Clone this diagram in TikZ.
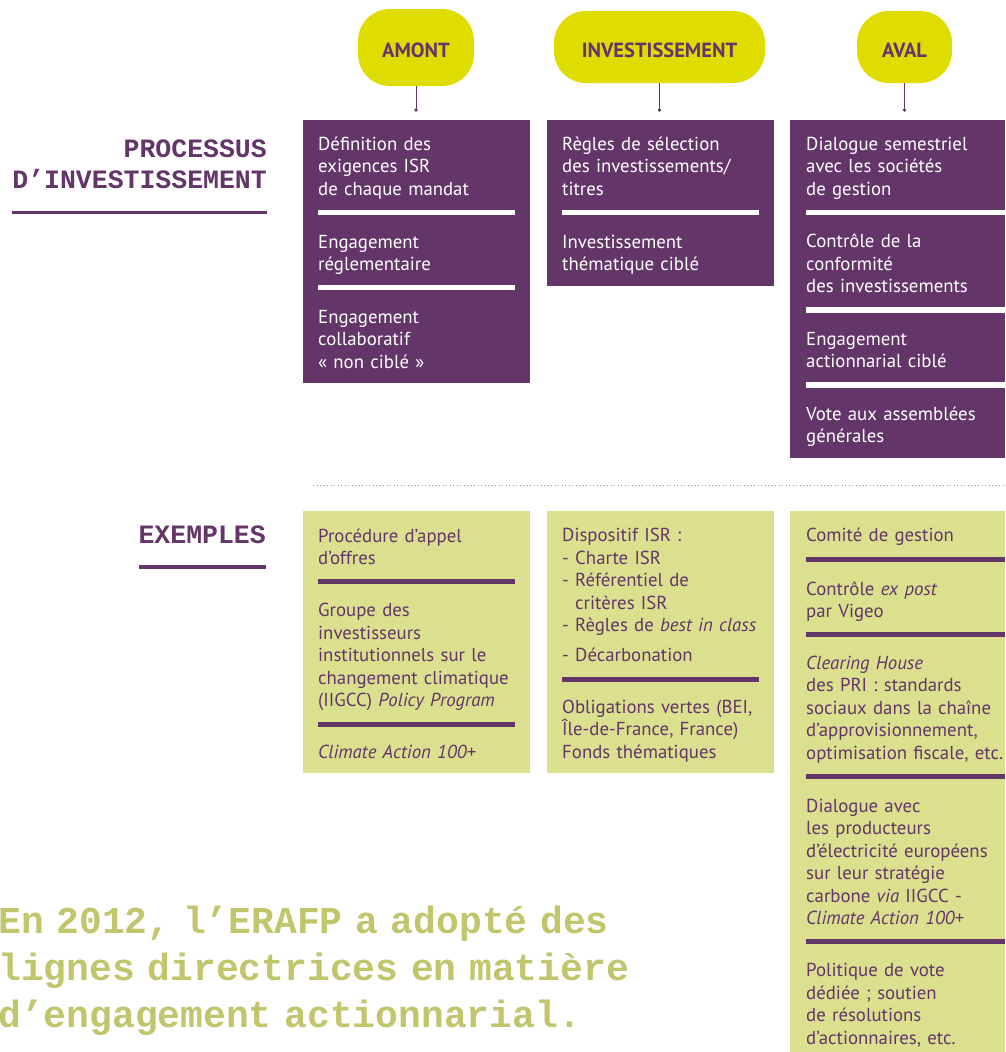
\documentclass[tikz,border=0pt]{standalone}
\usepackage{fontspec}
\setmainfont{PT Sans}
\newfontfamily\machine[WordSpace=0.44]{Liberation Mono}

\definecolor{prune}{HTML}{633569}
\definecolor{citron}{HTML}{DFDC00}
\definecolor{anis}{HTML}{DBE08F}
\definecolor{olivetxt}{HTML}{C1C56C}

\tikzset{
	pill/.style={rounded corners=32pt, fill=citron, text=prune, inner sep=0,
		text height=20.3pt, text depth=0pt,
		font=\fontsize{20.5}{20.5}\selectfont\bfseries},
	blanc/.style={anchor=base west, inner sep=0, text width=300pt, align=left,
		text=white, font=\fontsize{18.8}{22.5}\selectfont},
	vert/.style={blanc, text=prune},
	titre/.style={anchor=base east, inner sep=0, text width=300pt, align=right,
		text=prune, font=\machine\fontsize{26.5}{31}\selectfont\bfseries},
	lien/.style={prune, line width=0.8pt},
	barreblanche/.style={white, line width=5.5pt},
	barreprune/.style={prune, line width=5.5pt}
}

\begin{document}
\begin{tikzpicture}[x=1pt, y=-1pt]
		\useasboundingbox (0,0) rectangle (1005,1052);
		\node[pill, minimum width=116pt, minimum height=77pt] (amont) at (416,47.5) {AMONT};
		\node[pill, minimum width=211pt, minimum height=72pt] (invest) at (659.5,47) {INVESTISSEMENT};
		\node[pill, minimum width=95pt, minimum height=72pt] (aval) at (904.5,47) {AVAL};
		\coordinate (amont-bas) at (416,110);
		\coordinate (invest-bas) at (659.5,110);
		\coordinate (aval-bas) at (904.5,110);
		\draw[lien] (amont) -- (amont-bas);
		\draw[lien] (invest) -- (invest-bas);
		\draw[lien] (aval) -- (aval-bas);
		\fill[prune] (amont-bas) circle (1.8pt);
		\fill[prune] (invest-bas) circle (1.8pt);
		\fill[prune] (aval-bas) circle (1.8pt);

		\node[titre] (processus) at (267,157) {PROCESSUS\\D’INVESTISSEMENT};
		\path [draw, prune, line width=3.5pt] (12,212.7) -- (267,212.7);
		\node[titre] (exemples) at (266,543) {EXEMPLES};
		\path [draw, prune, line width=3.5pt] (139,567) -- (266,567);

		\fill[prune] (303,120) rectangle (530,383);
		\fill[prune] (547,120) rectangle (774,286);
		\fill[prune] (790,120) rectangle (1005,458);
		\path [draw, barreblanche] (318,212.7) -- (515,212.7);
		\path [draw, barreblanche] (318,287.7) -- (515,287.7);
		\path [draw, barreblanche] (562,212.7) -- (759,212.7);
		\path [draw, barreblanche] (806,212.7) -- (1005,212.7);
		\path [draw, barreblanche] (806,310) -- (1005,310);
		\path [draw, barreblanche] (806,385) -- (1005,385);

		\node[blanc] (definition) at (318,150) {Définition des\\exigences ISR\\de chaque mandat};
		\node[blanc] (reglement) at (318,248) {Engagement\\réglementaire};
		\node[blanc] (collectif) at (318,323) {Engagement\\collaboratif\\« non ciblé »};
		\node[blanc] (selection) at (562,150) {Règles de sélection\\des investissements/\\titres};
		\node[blanc] (thematique) at (562,248) {Investissement\\thématique ciblé};
		\node[blanc] (semestriel) at (806,150) {Dialogue semestriel\\avec les sociétés\\de gestion};
		\node[blanc] (conformite) at (806,247.7) {Contrôle de la\\conformité\\des investissements};
		\node[blanc] (actionnarial) at (806,345) {Engagement\\actionnarial ciblé};
		\node[blanc] (vote) at (806,420) {Vote aux assemblées\\générales};

		\path [draw, gray!85, line width=1pt, dash pattern=on 1pt off 2.5pt] (313,485) -- (1005,485);

		\fill[anis] (303,511) rectangle (530,773);
		\fill[anis] (547,511) rectangle (774,773);
		\fill[anis] (790,511) rectangle (1005,1052);
		\path [draw, barreprune] (318,581.7) -- (515,581.7);
		\path [draw, barreprune] (318,724.3) -- (515,724.3);
		\path [draw, barreprune] (562,679.3) -- (759,679.3);
		\path [draw, barreprune] (806,559.3) -- (1005,559.3);
		\path [draw, barreprune] (806,634.3) -- (1005,634.3);
		\path [draw, barreprune] (806,776.7) -- (1005,776.7);
		\path [draw, barreprune] (806,941.7) -- (1005,941.7);

		\node[vert] (appel) at (318,542) {Procédure d’appel\\d’offres};
		\node[vert] (iigcc) at (318,616.7) {Groupe des\\investisseurs\\institutionnels sur le\\changement climatique\\(IIGCC) \textit{Policy Program}};
		\node[vert] (climat) at (318,758) {\textit{Climate Action 100+}};
		\node[vert] (dispositif) at (562,541.7) {Dispositif ISR :\\- Charte ISR\\- Référentiel de\\\hspace*{13pt}critères ISR\\- Règles de \textit{best in class}\\[7.5pt]- Décarbonation};
		\node[vert] (obligations) at (562,713.3) {Obligations vertes (BEI,\\Île-de-France, France)\\Fonds thématiques};
		\node[vert] (comite) at (806,541.7) {Comité de gestion};
		\node[vert] (expost) at (806,595) {Contrôle \textit{ex post}\\par Vigeo};
		\node[vert] (clearing) at (806,669.3) {\textit{Clearing House}\\des PRI : standards\\sociaux dans la chaîne\\d’approvisionnement,\\optimisation fiscale, etc.};
		\node[vert] (electricite) at (806,812.3) {Dialogue avec\\les producteurs\\d’électricité européens\\sur leur stratégie\\carbone \textit{via} IIGCC -\\\textit{Climate Action 100+}};
		\node[vert] (politique) at (806,976.7) {Politique de vote\\dédiée ; soutien\\de résolutions\\d’actionnaires, etc.};

		\node[anchor=base west, inner sep=0, text width=700pt, align=left, text=olivetxt,
			font=\machine\fontsize{38}{47}\selectfont\bfseries] (citation) at (-2,933)
			{En 2012, l’ERAFP a adopté des\\lignes directrices en matière\\d’engagement actionnarial.};
	\end{tikzpicture}
\end{document}
